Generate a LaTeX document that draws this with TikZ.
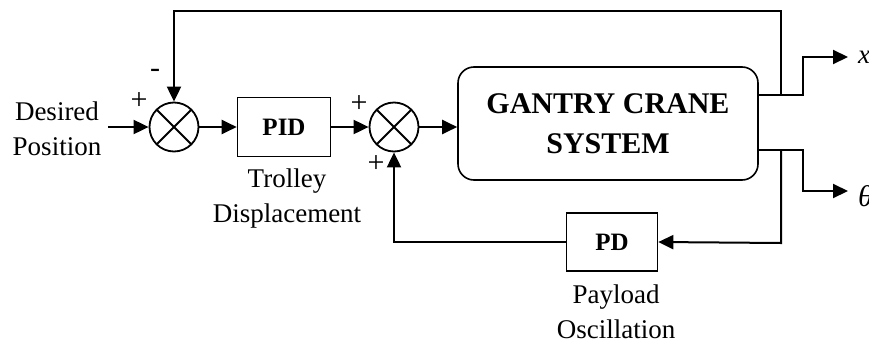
\documentclass[tikz,border=0pt]{standalone}
\usepackage{fontspec}
\setmainfont{Liberation Serif}
\usetikzlibrary{arrows.meta}
\begin{document}
\begin{tikzpicture}[x=1pt,y=-1pt,
  line width=2pt,
  conn/.style={line width=2pt},
  arr/.style={conn,-{Triangle[length=15pt,width=14pt]}},
  sumnode/.style={circle,draw,line width=1.8pt,minimum size=49pt,inner sep=0pt,
    path picture={\draw[line width=1.8pt] (path picture bounding box.north west)--(path picture bounding box.south east)
      (path picture bounding box.north east)--(path picture bounding box.south west);}},
  blk/.style={draw,line width=1.6pt,inner sep=0pt,font=\fontsize{25}{28}\selectfont\bfseries},
  lbl/.style={font=\fontsize{27}{35}\selectfont,align=center,inner sep=0pt},
  sgn/.style={font=\fontsize{30}{30}\selectfont,inner sep=0pt}]
\useasboundingbox (0,0) rectangle (869,343);
% nodes
\node[sumnode] (s1) at (174,127) {};
\node[sumnode] (s2) at (394,127) {};
\node[blk,minimum width=93pt,minimum height=59pt] (pid) at (284,127) {PID};
\node[blk,minimum width=91pt,minimum height=58pt] (pd) at (612,242) {PD};
\node[draw,line width=1.6pt,rounded corners=16pt,minimum width=300pt,minimum height=113pt,
  align=center,font=\fontsize{30}{40}\selectfont\bfseries] (sys) at (608,123.5) {GANTRY CRANE\\SYSTEM};
\coordinate (in) at (108,127);
\coordinate (top2) at (781,11);
\coordinate (xo1) at (781,95);
\coordinate (xo2) at (803,95);
\coordinate (xo3) at (803,57);
\coordinate (xend) at (848,57);
\coordinate (to1) at (781,150);
\coordinate (to2) at (803,150);
\coordinate (to3) at (803,191);
\coordinate (tend) at (848,191);
\coordinate (fb1) at (781,243);
% texts
\node[lbl,anchor=base] (dp) at (57,155) {Desired\\Position};
\node[lbl,anchor=base] (tdl) at (287,222) {Trolley\\Displacement};
\node[lbl,anchor=base] (pol) at (616,338) {Payload\\Oscillation};
\node[sgn] (p1) at (139,101) {+};
\node[sgn] (m1) at (155,73) {-};
\node[sgn] (p2) at (359,104) {+};
\node[sgn] (p3) at (376,164) {+};
\node[font=\fontsize{27}{27}\selectfont\itshape,anchor=base west,inner sep=0pt] (xl) at (857,63) {x};
\node[font=\fontsize{30}{30}\selectfont\itshape,anchor=base west,inner sep=0pt] (tl) at (857,206) {θ};
% connectors
\draw[arr] (in) -- (s1.west);
\draw[arr] (s1.east) -- (pid.west);
\draw[arr] (pid.east) -- (s2.west);
\draw[arr] (s2.east) -- (s2.east -| sys.west);
\draw[arr] (xo1) -- (top2) -- (s1.north |- top2) -- (s1.north);
\draw[arr] (sys.east |- xo1) -- (xo2) -- (xo3) -- (xend);
\draw[arr] (sys.east |- to1) -- (to2) -- (to3) -- (tend);
\draw[arr] (to1) -- (fb1) -- (pd.east);
\draw[arr] (pd.west) -- (s2.south |- pd.west) -- (s2.south);
\end{tikzpicture}
\end{document}
